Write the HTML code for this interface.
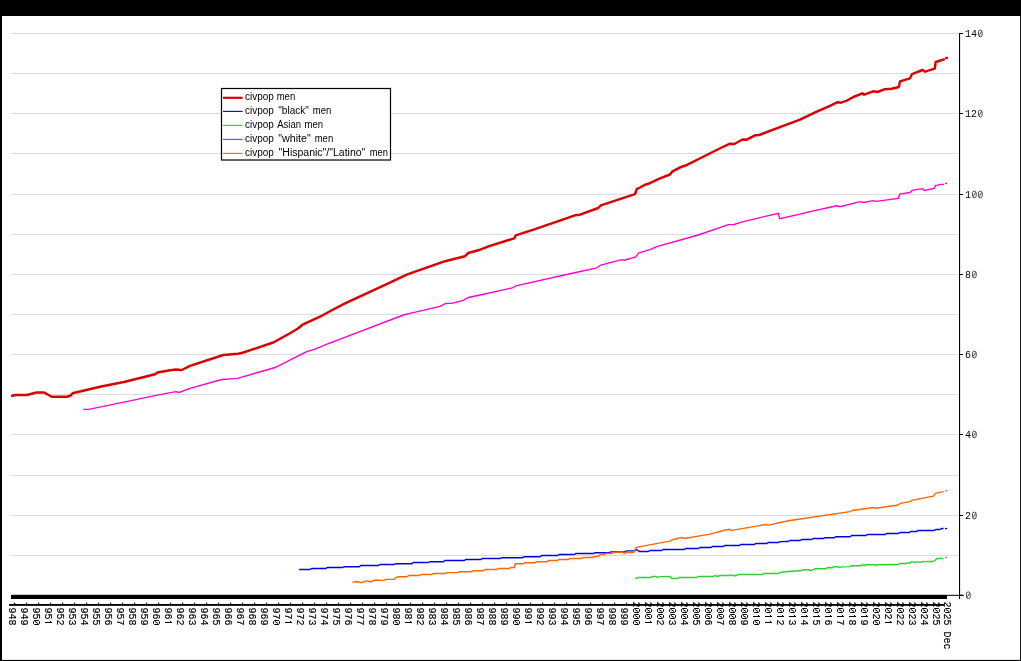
<!DOCTYPE html>
<html><head><meta charset="utf-8"><title>civpop men</title>
<style>
html,body{margin:0;padding:0;background:#000;overflow:hidden}
svg{display:block;will-change:transform}
.m{font-family:"Liberation Mono",monospace;font-size:10px;fill:#000}
.s{font-family:"Liberation Sans",sans-serif;font-size:10px;fill:#000}
.r text{stroke:#000;stroke-width:.15px}
</style></head><body>
<svg width="1021" height="661" viewBox="0 0 1021 661">
<rect x="0" y="0" width="1021" height="661" fill="#000"/>
<g>
<rect x="2" y="16" width="1018.1" height="643.9" fill="#fff"/>

<g stroke="#dcdcdc" stroke-width="1">
<line x1="11" y1="33.5" x2="958" y2="33.5"/>
<line x1="11" y1="73.5" x2="958" y2="73.5"/>
<line x1="11" y1="113.5" x2="958" y2="113.5"/>
<line x1="11" y1="153.5" x2="958" y2="153.5"/>
<line x1="11" y1="194.5" x2="958" y2="194.5"/>
<line x1="11" y1="234.5" x2="958" y2="234.5"/>
<line x1="11" y1="274.5" x2="958" y2="274.5"/>
<line x1="11" y1="314.5" x2="958" y2="314.5"/>
<line x1="11" y1="354.5" x2="958" y2="354.5"/>
<line x1="11" y1="394.5" x2="958" y2="394.5"/>
<line x1="11" y1="434.5" x2="958" y2="434.5"/>
<line x1="11" y1="475.5" x2="958" y2="475.5"/>
<line x1="11" y1="515.5" x2="958" y2="515.5"/>
<line x1="11" y1="555.5" x2="958" y2="555.5"/>
</g>
<line x1="11" y1="595.3" x2="964" y2="595.3" stroke="#000" stroke-width="1"/>
<rect x="11" y="595" width="936" height="4" fill="#000"/>
<line x1="959.55" y1="33" x2="959.55" y2="599" stroke="#000" stroke-width="1.1"/>
<line x1="959" y1="33.5" x2="963" y2="33.5" stroke="#000" stroke-width="1"/>
<g class="m" transform="translate(965,37.0)"><text><tspan x="0">1</tspan><tspan x="6">4</tspan></text><path d="M15.3 -0.2H15.3Q17.2 -0.2 17.2 -2.1V-5.1Q17.2 -6.9 15.3 -6.9H15.3Q13.5 -6.9 13.5 -5.1V-2.1Q13.5 -0.2 15.3 -0.2ZM14.2 -1.5L16.5 -5.6" fill="none" stroke="#222" stroke-width="0.8"/></g>
<line x1="959" y1="113.5" x2="963" y2="113.5" stroke="#000" stroke-width="1"/>
<g class="m" transform="translate(965,117.0)"><text><tspan x="0">1</tspan><tspan x="6">2</tspan></text><path d="M15.3 -0.2H15.3Q17.2 -0.2 17.2 -2.1V-5.1Q17.2 -6.9 15.3 -6.9H15.3Q13.5 -6.9 13.5 -5.1V-2.1Q13.5 -0.2 15.3 -0.2ZM14.2 -1.5L16.5 -5.6" fill="none" stroke="#222" stroke-width="0.8"/></g>
<line x1="959" y1="194.5" x2="963" y2="194.5" stroke="#000" stroke-width="1"/>
<g class="m" transform="translate(965,198.0)"><text><tspan x="0">1</tspan></text><path d="M9.3 -0.2H9.3Q11.2 -0.2 11.2 -2.1V-5.1Q11.2 -6.9 9.3 -6.9H9.3Q7.5 -6.9 7.5 -5.1V-2.1Q7.5 -0.2 9.3 -0.2ZM8.2 -1.5L10.5 -5.6M15.3 -0.2H15.3Q17.2 -0.2 17.2 -2.1V-5.1Q17.2 -6.9 15.3 -6.9H15.3Q13.5 -6.9 13.5 -5.1V-2.1Q13.5 -0.2 15.3 -0.2ZM14.2 -1.5L16.5 -5.6" fill="none" stroke="#222" stroke-width="0.8"/></g>
<line x1="959" y1="274.5" x2="963" y2="274.5" stroke="#000" stroke-width="1"/>
<g class="m" transform="translate(965,278.0)"><text><tspan x="0">8</tspan></text><path d="M9.3 -0.2H9.3Q11.2 -0.2 11.2 -2.1V-5.1Q11.2 -6.9 9.3 -6.9H9.3Q7.5 -6.9 7.5 -5.1V-2.1Q7.5 -0.2 9.3 -0.2ZM8.2 -1.5L10.5 -5.6" fill="none" stroke="#222" stroke-width="0.8"/></g>
<line x1="959" y1="354.5" x2="963" y2="354.5" stroke="#000" stroke-width="1"/>
<g class="m" transform="translate(965,358.0)"><text><tspan x="0">6</tspan></text><path d="M9.3 -0.2H9.3Q11.2 -0.2 11.2 -2.1V-5.1Q11.2 -6.9 9.3 -6.9H9.3Q7.5 -6.9 7.5 -5.1V-2.1Q7.5 -0.2 9.3 -0.2ZM8.2 -1.5L10.5 -5.6" fill="none" stroke="#222" stroke-width="0.8"/></g>
<line x1="959" y1="434.5" x2="963" y2="434.5" stroke="#000" stroke-width="1"/>
<g class="m" transform="translate(965,438.0)"><text><tspan x="0">4</tspan></text><path d="M9.3 -0.2H9.3Q11.2 -0.2 11.2 -2.1V-5.1Q11.2 -6.9 9.3 -6.9H9.3Q7.5 -6.9 7.5 -5.1V-2.1Q7.5 -0.2 9.3 -0.2ZM8.2 -1.5L10.5 -5.6" fill="none" stroke="#222" stroke-width="0.8"/></g>
<line x1="959" y1="515.5" x2="963" y2="515.5" stroke="#000" stroke-width="1"/>
<g class="m" transform="translate(965,519.0)"><text><tspan x="0">2</tspan></text><path d="M9.3 -0.2H9.3Q11.2 -0.2 11.2 -2.1V-5.1Q11.2 -6.9 9.3 -6.9H9.3Q7.5 -6.9 7.5 -5.1V-2.1Q7.5 -0.2 9.3 -0.2ZM8.2 -1.5L10.5 -5.6" fill="none" stroke="#222" stroke-width="0.8"/></g>
<line x1="959" y1="595.3" x2="963" y2="595.3" stroke="#000" stroke-width="1"/>
<g class="m" transform="translate(965,598.8)"><path d="M3.4 -0.2H3.4Q5.2 -0.2 5.2 -2.1V-5.1Q5.2 -6.9 3.4 -6.9H3.4Q1.5 -6.9 1.5 -5.1V-2.1Q1.5 -0.2 3.4 -0.2ZM2.2 -1.5L4.5 -5.6" fill="none" stroke="#222" stroke-width="0.8"/></g>
<rect x="9" y="604" width="935" height="1.85" fill="#000"/>
<g fill="#000">
<rect x="13.9" y="602.7" width="1.3" height="1.6"/>
<rect x="25.9" y="602.7" width="1.3" height="1.6"/>
<rect x="37.9" y="602.7" width="1.3" height="1.6"/>
<rect x="49.9" y="602.7" width="1.3" height="1.6"/>
<rect x="61.9" y="602.7" width="1.3" height="1.6"/>
<rect x="73.9" y="602.7" width="1.3" height="1.6"/>
<rect x="85.9" y="602.7" width="1.3" height="1.6"/>
<rect x="97.9" y="602.7" width="1.3" height="1.6"/>
<rect x="109.9" y="602.7" width="1.3" height="1.6"/>
<rect x="121.9" y="602.7" width="1.3" height="1.6"/>
<rect x="133.9" y="602.7" width="1.3" height="1.6"/>
<rect x="145.9" y="602.7" width="1.3" height="1.6"/>
<rect x="157.9" y="602.7" width="1.3" height="1.6"/>
<rect x="169.9" y="602.7" width="1.3" height="1.6"/>
<rect x="181.9" y="602.7" width="1.3" height="1.6"/>
<rect x="193.9" y="602.7" width="1.3" height="1.6"/>
<rect x="205.9" y="602.7" width="1.3" height="1.6"/>
<rect x="217.9" y="602.7" width="1.3" height="1.6"/>
<rect x="229.9" y="602.7" width="1.3" height="1.6"/>
<rect x="241.9" y="602.7" width="1.3" height="1.6"/>
<rect x="253.9" y="602.7" width="1.3" height="1.6"/>
<rect x="265.9" y="602.7" width="1.3" height="1.6"/>
<rect x="277.9" y="602.7" width="1.3" height="1.6"/>
<rect x="289.9" y="602.7" width="1.3" height="1.6"/>
<rect x="301.9" y="602.7" width="1.3" height="1.6"/>
<rect x="313.9" y="602.7" width="1.3" height="1.6"/>
<rect x="325.9" y="602.7" width="1.3" height="1.6"/>
<rect x="337.9" y="602.7" width="1.3" height="1.6"/>
<rect x="349.9" y="602.7" width="1.3" height="1.6"/>
<rect x="361.9" y="602.7" width="1.3" height="1.6"/>
<rect x="373.9" y="602.7" width="1.3" height="1.6"/>
<rect x="385.9" y="602.7" width="1.3" height="1.6"/>
<rect x="397.9" y="602.7" width="1.3" height="1.6"/>
<rect x="409.9" y="602.7" width="1.3" height="1.6"/>
<rect x="421.9" y="602.7" width="1.3" height="1.6"/>
<rect x="433.9" y="602.7" width="1.3" height="1.6"/>
<rect x="445.9" y="602.7" width="1.3" height="1.6"/>
<rect x="457.9" y="602.7" width="1.3" height="1.6"/>
<rect x="469.9" y="602.7" width="1.3" height="1.6"/>
<rect x="481.9" y="602.7" width="1.3" height="1.6"/>
<rect x="493.9" y="602.7" width="1.3" height="1.6"/>
<rect x="505.9" y="602.7" width="1.3" height="1.6"/>
<rect x="517.9" y="602.7" width="1.3" height="1.6"/>
<rect x="529.9" y="602.7" width="1.3" height="1.6"/>
<rect x="541.9" y="602.7" width="1.3" height="1.6"/>
<rect x="553.9" y="602.7" width="1.3" height="1.6"/>
<rect x="565.9" y="602.7" width="1.3" height="1.6"/>
<rect x="577.9" y="602.7" width="1.3" height="1.6"/>
<rect x="589.9" y="602.7" width="1.3" height="1.6"/>
<rect x="601.9" y="602.7" width="1.3" height="1.6"/>
<rect x="613.9" y="602.7" width="1.3" height="1.6"/>
<rect x="625.9" y="602.7" width="1.3" height="1.6"/>
</g>
<g class="m r">
<g transform="translate(9.0,607.5) rotate(90)"><text><tspan x="0">9</tspan><tspan x="6">4</tspan><tspan x="12">8</tspan></text></g>
<g transform="translate(21.0,607.5) rotate(90)"><text><tspan x="0">9</tspan><tspan x="6">4</tspan><tspan x="12">9</tspan></text></g>
<g transform="translate(33.0,607.5) rotate(90)"><text><tspan x="0">9</tspan><tspan x="6">5</tspan></text><path d="M14.0 -0.5H16.0L17.0 -1.5V-5.5L16.0 -6.5H14.0L13.0 -5.5V-1.5ZM13.8 -1.7L16.2 -5.3" fill="none" stroke="#000" stroke-width="1"/></g>
<g transform="translate(45.0,607.5) rotate(90)"><text><tspan x="0">9</tspan><tspan x="6">5</tspan></text><path d="M15.0 0V-7M14.8 -6.4l-1.5 1.5" fill="none" stroke="#000" stroke-width="1"/></g>
<g transform="translate(57.0,607.5) rotate(90)"><text><tspan x="0">9</tspan><tspan x="6">5</tspan><tspan x="12">2</tspan></text></g>
<g transform="translate(69.0,607.5) rotate(90)"><text><tspan x="0">9</tspan><tspan x="6">5</tspan><tspan x="12">3</tspan></text></g>
<g transform="translate(81.0,607.5) rotate(90)"><text><tspan x="0">9</tspan><tspan x="6">5</tspan><tspan x="12">4</tspan></text></g>
<g transform="translate(93.0,607.5) rotate(90)"><text><tspan x="0">9</tspan><tspan x="6">5</tspan><tspan x="12">5</tspan></text></g>
<g transform="translate(105.0,607.5) rotate(90)"><text><tspan x="0">9</tspan><tspan x="6">5</tspan><tspan x="12">6</tspan></text></g>
<g transform="translate(117.0,607.5) rotate(90)"><text><tspan x="0">9</tspan><tspan x="6">5</tspan><tspan x="12">7</tspan></text></g>
<g transform="translate(129.0,607.5) rotate(90)"><text><tspan x="0">9</tspan><tspan x="6">5</tspan><tspan x="12">8</tspan></text></g>
<g transform="translate(141.0,607.5) rotate(90)"><text><tspan x="0">9</tspan><tspan x="6">5</tspan><tspan x="12">9</tspan></text></g>
<g transform="translate(153.0,607.5) rotate(90)"><text><tspan x="0">9</tspan><tspan x="6">6</tspan></text><path d="M14.0 -0.5H16.0L17.0 -1.5V-5.5L16.0 -6.5H14.0L13.0 -5.5V-1.5ZM13.8 -1.7L16.2 -5.3" fill="none" stroke="#000" stroke-width="1"/></g>
<g transform="translate(165.0,607.5) rotate(90)"><text><tspan x="0">9</tspan><tspan x="6">6</tspan></text><path d="M15.0 0V-7M14.8 -6.4l-1.5 1.5" fill="none" stroke="#000" stroke-width="1"/></g>
<g transform="translate(177.0,607.5) rotate(90)"><text><tspan x="0">9</tspan><tspan x="6">6</tspan><tspan x="12">2</tspan></text></g>
<g transform="translate(189.0,607.5) rotate(90)"><text><tspan x="0">9</tspan><tspan x="6">6</tspan><tspan x="12">3</tspan></text></g>
<g transform="translate(201.0,607.5) rotate(90)"><text><tspan x="0">9</tspan><tspan x="6">6</tspan><tspan x="12">4</tspan></text></g>
<g transform="translate(213.0,607.5) rotate(90)"><text><tspan x="0">9</tspan><tspan x="6">6</tspan><tspan x="12">5</tspan></text></g>
<g transform="translate(225.0,607.5) rotate(90)"><text><tspan x="0">9</tspan><tspan x="6">6</tspan><tspan x="12">6</tspan></text></g>
<g transform="translate(237.0,607.5) rotate(90)"><text><tspan x="0">9</tspan><tspan x="6">6</tspan><tspan x="12">7</tspan></text></g>
<g transform="translate(249.0,607.5) rotate(90)"><text><tspan x="0">9</tspan><tspan x="6">6</tspan><tspan x="12">8</tspan></text></g>
<g transform="translate(261.0,607.5) rotate(90)"><text><tspan x="0">9</tspan><tspan x="6">6</tspan><tspan x="12">9</tspan></text></g>
<g transform="translate(273.0,607.5) rotate(90)"><text><tspan x="0">9</tspan><tspan x="6">7</tspan></text><path d="M14.0 -0.5H16.0L17.0 -1.5V-5.5L16.0 -6.5H14.0L13.0 -5.5V-1.5ZM13.8 -1.7L16.2 -5.3" fill="none" stroke="#000" stroke-width="1"/></g>
<g transform="translate(285.0,607.5) rotate(90)"><text><tspan x="0">9</tspan><tspan x="6">7</tspan></text><path d="M15.0 0V-7M14.8 -6.4l-1.5 1.5" fill="none" stroke="#000" stroke-width="1"/></g>
<g transform="translate(297.0,607.5) rotate(90)"><text><tspan x="0">9</tspan><tspan x="6">7</tspan><tspan x="12">2</tspan></text></g>
<g transform="translate(309.0,607.5) rotate(90)"><text><tspan x="0">9</tspan><tspan x="6">7</tspan><tspan x="12">3</tspan></text></g>
<g transform="translate(321.0,607.5) rotate(90)"><text><tspan x="0">9</tspan><tspan x="6">7</tspan><tspan x="12">4</tspan></text></g>
<g transform="translate(333.0,607.5) rotate(90)"><text><tspan x="0">9</tspan><tspan x="6">7</tspan><tspan x="12">5</tspan></text></g>
<g transform="translate(345.0,607.5) rotate(90)"><text><tspan x="0">9</tspan><tspan x="6">7</tspan><tspan x="12">6</tspan></text></g>
<g transform="translate(357.0,607.5) rotate(90)"><text><tspan x="0">9</tspan><tspan x="6">7</tspan><tspan x="12">7</tspan></text></g>
<g transform="translate(369.0,607.5) rotate(90)"><text><tspan x="0">9</tspan><tspan x="6">7</tspan><tspan x="12">8</tspan></text></g>
<g transform="translate(381.0,607.5) rotate(90)"><text><tspan x="0">9</tspan><tspan x="6">7</tspan><tspan x="12">9</tspan></text></g>
<g transform="translate(393.0,607.5) rotate(90)"><text><tspan x="0">9</tspan><tspan x="6">8</tspan></text><path d="M14.0 -0.5H16.0L17.0 -1.5V-5.5L16.0 -6.5H14.0L13.0 -5.5V-1.5ZM13.8 -1.7L16.2 -5.3" fill="none" stroke="#000" stroke-width="1"/></g>
<g transform="translate(405.0,607.5) rotate(90)"><text><tspan x="0">9</tspan><tspan x="6">8</tspan></text><path d="M15.0 0V-7M14.8 -6.4l-1.5 1.5" fill="none" stroke="#000" stroke-width="1"/></g>
<g transform="translate(417.0,607.5) rotate(90)"><text><tspan x="0">9</tspan><tspan x="6">8</tspan><tspan x="12">2</tspan></text></g>
<g transform="translate(429.0,607.5) rotate(90)"><text><tspan x="0">9</tspan><tspan x="6">8</tspan><tspan x="12">3</tspan></text></g>
<g transform="translate(441.0,607.5) rotate(90)"><text><tspan x="0">9</tspan><tspan x="6">8</tspan><tspan x="12">4</tspan></text></g>
<g transform="translate(453.0,607.5) rotate(90)"><text><tspan x="0">9</tspan><tspan x="6">8</tspan><tspan x="12">5</tspan></text></g>
<g transform="translate(465.0,607.5) rotate(90)"><text><tspan x="0">9</tspan><tspan x="6">8</tspan><tspan x="12">6</tspan></text></g>
<g transform="translate(477.0,607.5) rotate(90)"><text><tspan x="0">9</tspan><tspan x="6">8</tspan><tspan x="12">7</tspan></text></g>
<g transform="translate(489.0,607.5) rotate(90)"><text><tspan x="0">9</tspan><tspan x="6">8</tspan><tspan x="12">8</tspan></text></g>
<g transform="translate(501.0,607.5) rotate(90)"><text><tspan x="0">9</tspan><tspan x="6">8</tspan><tspan x="12">9</tspan></text></g>
<g transform="translate(513.0,607.5) rotate(90)"><text><tspan x="0">9</tspan><tspan x="6">9</tspan></text><path d="M14.0 -0.5H16.0L17.0 -1.5V-5.5L16.0 -6.5H14.0L13.0 -5.5V-1.5ZM13.8 -1.7L16.2 -5.3" fill="none" stroke="#000" stroke-width="1"/></g>
<g transform="translate(525.0,607.5) rotate(90)"><text><tspan x="0">9</tspan><tspan x="6">9</tspan></text><path d="M15.0 0V-7M14.8 -6.4l-1.5 1.5" fill="none" stroke="#000" stroke-width="1"/></g>
<g transform="translate(537.0,607.5) rotate(90)"><text><tspan x="0">9</tspan><tspan x="6">9</tspan><tspan x="12">2</tspan></text></g>
<g transform="translate(549.0,607.5) rotate(90)"><text><tspan x="0">9</tspan><tspan x="6">9</tspan><tspan x="12">3</tspan></text></g>
<g transform="translate(561.0,607.5) rotate(90)"><text><tspan x="0">9</tspan><tspan x="6">9</tspan><tspan x="12">4</tspan></text></g>
<g transform="translate(573.0,607.5) rotate(90)"><text><tspan x="0">9</tspan><tspan x="6">9</tspan><tspan x="12">5</tspan></text></g>
<g transform="translate(585.0,607.5) rotate(90)"><text><tspan x="0">9</tspan><tspan x="6">9</tspan><tspan x="12">6</tspan></text></g>
<g transform="translate(597.0,607.5) rotate(90)"><text><tspan x="0">9</tspan><tspan x="6">9</tspan><tspan x="12">7</tspan></text></g>
<g transform="translate(609.0,607.5) rotate(90)"><text><tspan x="0">9</tspan><tspan x="6">9</tspan><tspan x="12">8</tspan></text></g>
<g transform="translate(621.0,607.5) rotate(90)"><text><tspan x="0">9</tspan><tspan x="6">9</tspan><tspan x="12">9</tspan></text></g>
<g transform="translate(633.0,601.5) rotate(90)"><text><tspan x="0">2</tspan></text><path d="M8.0 -0.5H10.0L11.0 -1.5V-5.5L10.0 -6.5H8.0L7.0 -5.5V-1.5ZM7.8 -1.7L10.2 -5.3M14.0 -0.5H16.0L17.0 -1.5V-5.5L16.0 -6.5H14.0L13.0 -5.5V-1.5ZM13.8 -1.7L16.2 -5.3M20.0 -0.5H22.0L23.0 -1.5V-5.5L22.0 -6.5H20.0L19.0 -5.5V-1.5ZM19.8 -1.7L22.2 -5.3" fill="none" stroke="#000" stroke-width="1"/></g>
<g transform="translate(645.0,601.5) rotate(90)"><text><tspan x="0">2</tspan></text><path d="M8.0 -0.5H10.0L11.0 -1.5V-5.5L10.0 -6.5H8.0L7.0 -5.5V-1.5ZM7.8 -1.7L10.2 -5.3M14.0 -0.5H16.0L17.0 -1.5V-5.5L16.0 -6.5H14.0L13.0 -5.5V-1.5ZM13.8 -1.7L16.2 -5.3M21.0 0V-7M20.8 -6.4l-1.5 1.5" fill="none" stroke="#000" stroke-width="1"/></g>
<g transform="translate(657.0,601.5) rotate(90)"><text><tspan x="0">2</tspan><tspan x="18">2</tspan></text><path d="M8.0 -0.5H10.0L11.0 -1.5V-5.5L10.0 -6.5H8.0L7.0 -5.5V-1.5ZM7.8 -1.7L10.2 -5.3M14.0 -0.5H16.0L17.0 -1.5V-5.5L16.0 -6.5H14.0L13.0 -5.5V-1.5ZM13.8 -1.7L16.2 -5.3" fill="none" stroke="#000" stroke-width="1"/></g>
<g transform="translate(669.0,601.5) rotate(90)"><text><tspan x="0">2</tspan><tspan x="18">3</tspan></text><path d="M8.0 -0.5H10.0L11.0 -1.5V-5.5L10.0 -6.5H8.0L7.0 -5.5V-1.5ZM7.8 -1.7L10.2 -5.3M14.0 -0.5H16.0L17.0 -1.5V-5.5L16.0 -6.5H14.0L13.0 -5.5V-1.5ZM13.8 -1.7L16.2 -5.3" fill="none" stroke="#000" stroke-width="1"/></g>
<g transform="translate(681.0,601.5) rotate(90)"><text><tspan x="0">2</tspan><tspan x="18">4</tspan></text><path d="M8.0 -0.5H10.0L11.0 -1.5V-5.5L10.0 -6.5H8.0L7.0 -5.5V-1.5ZM7.8 -1.7L10.2 -5.3M14.0 -0.5H16.0L17.0 -1.5V-5.5L16.0 -6.5H14.0L13.0 -5.5V-1.5ZM13.8 -1.7L16.2 -5.3" fill="none" stroke="#000" stroke-width="1"/></g>
<g transform="translate(693.0,601.5) rotate(90)"><text><tspan x="0">2</tspan><tspan x="18">5</tspan></text><path d="M8.0 -0.5H10.0L11.0 -1.5V-5.5L10.0 -6.5H8.0L7.0 -5.5V-1.5ZM7.8 -1.7L10.2 -5.3M14.0 -0.5H16.0L17.0 -1.5V-5.5L16.0 -6.5H14.0L13.0 -5.5V-1.5ZM13.8 -1.7L16.2 -5.3" fill="none" stroke="#000" stroke-width="1"/></g>
<g transform="translate(705.0,601.5) rotate(90)"><text><tspan x="0">2</tspan><tspan x="18">6</tspan></text><path d="M8.0 -0.5H10.0L11.0 -1.5V-5.5L10.0 -6.5H8.0L7.0 -5.5V-1.5ZM7.8 -1.7L10.2 -5.3M14.0 -0.5H16.0L17.0 -1.5V-5.5L16.0 -6.5H14.0L13.0 -5.5V-1.5ZM13.8 -1.7L16.2 -5.3" fill="none" stroke="#000" stroke-width="1"/></g>
<g transform="translate(717.0,601.5) rotate(90)"><text><tspan x="0">2</tspan><tspan x="18">7</tspan></text><path d="M8.0 -0.5H10.0L11.0 -1.5V-5.5L10.0 -6.5H8.0L7.0 -5.5V-1.5ZM7.8 -1.7L10.2 -5.3M14.0 -0.5H16.0L17.0 -1.5V-5.5L16.0 -6.5H14.0L13.0 -5.5V-1.5ZM13.8 -1.7L16.2 -5.3" fill="none" stroke="#000" stroke-width="1"/></g>
<g transform="translate(729.0,601.5) rotate(90)"><text><tspan x="0">2</tspan><tspan x="18">8</tspan></text><path d="M8.0 -0.5H10.0L11.0 -1.5V-5.5L10.0 -6.5H8.0L7.0 -5.5V-1.5ZM7.8 -1.7L10.2 -5.3M14.0 -0.5H16.0L17.0 -1.5V-5.5L16.0 -6.5H14.0L13.0 -5.5V-1.5ZM13.8 -1.7L16.2 -5.3" fill="none" stroke="#000" stroke-width="1"/></g>
<g transform="translate(741.0,601.5) rotate(90)"><text><tspan x="0">2</tspan><tspan x="18">9</tspan></text><path d="M8.0 -0.5H10.0L11.0 -1.5V-5.5L10.0 -6.5H8.0L7.0 -5.5V-1.5ZM7.8 -1.7L10.2 -5.3M14.0 -0.5H16.0L17.0 -1.5V-5.5L16.0 -6.5H14.0L13.0 -5.5V-1.5ZM13.8 -1.7L16.2 -5.3" fill="none" stroke="#000" stroke-width="1"/></g>
<g transform="translate(753.0,601.5) rotate(90)"><text><tspan x="0">2</tspan></text><path d="M8.0 -0.5H10.0L11.0 -1.5V-5.5L10.0 -6.5H8.0L7.0 -5.5V-1.5ZM7.8 -1.7L10.2 -5.3M15.0 0V-7M14.8 -6.4l-1.5 1.5M20.0 -0.5H22.0L23.0 -1.5V-5.5L22.0 -6.5H20.0L19.0 -5.5V-1.5ZM19.8 -1.7L22.2 -5.3" fill="none" stroke="#000" stroke-width="1"/></g>
<g transform="translate(765.0,601.5) rotate(90)"><text><tspan x="0">2</tspan></text><path d="M8.0 -0.5H10.0L11.0 -1.5V-5.5L10.0 -6.5H8.0L7.0 -5.5V-1.5ZM7.8 -1.7L10.2 -5.3M15.0 0V-7M14.8 -6.4l-1.5 1.5M21.0 0V-7M20.8 -6.4l-1.5 1.5" fill="none" stroke="#000" stroke-width="1"/></g>
<g transform="translate(777.0,601.5) rotate(90)"><text><tspan x="0">2</tspan><tspan x="18">2</tspan></text><path d="M8.0 -0.5H10.0L11.0 -1.5V-5.5L10.0 -6.5H8.0L7.0 -5.5V-1.5ZM7.8 -1.7L10.2 -5.3M15.0 0V-7M14.8 -6.4l-1.5 1.5" fill="none" stroke="#000" stroke-width="1"/></g>
<g transform="translate(789.0,601.5) rotate(90)"><text><tspan x="0">2</tspan><tspan x="18">3</tspan></text><path d="M8.0 -0.5H10.0L11.0 -1.5V-5.5L10.0 -6.5H8.0L7.0 -5.5V-1.5ZM7.8 -1.7L10.2 -5.3M15.0 0V-7M14.8 -6.4l-1.5 1.5" fill="none" stroke="#000" stroke-width="1"/></g>
<g transform="translate(801.0,601.5) rotate(90)"><text><tspan x="0">2</tspan><tspan x="18">4</tspan></text><path d="M8.0 -0.5H10.0L11.0 -1.5V-5.5L10.0 -6.5H8.0L7.0 -5.5V-1.5ZM7.8 -1.7L10.2 -5.3M15.0 0V-7M14.8 -6.4l-1.5 1.5" fill="none" stroke="#000" stroke-width="1"/></g>
<g transform="translate(813.0,601.5) rotate(90)"><text><tspan x="0">2</tspan><tspan x="18">5</tspan></text><path d="M8.0 -0.5H10.0L11.0 -1.5V-5.5L10.0 -6.5H8.0L7.0 -5.5V-1.5ZM7.8 -1.7L10.2 -5.3M15.0 0V-7M14.8 -6.4l-1.5 1.5" fill="none" stroke="#000" stroke-width="1"/></g>
<g transform="translate(825.0,601.5) rotate(90)"><text><tspan x="0">2</tspan><tspan x="18">6</tspan></text><path d="M8.0 -0.5H10.0L11.0 -1.5V-5.5L10.0 -6.5H8.0L7.0 -5.5V-1.5ZM7.8 -1.7L10.2 -5.3M15.0 0V-7M14.8 -6.4l-1.5 1.5" fill="none" stroke="#000" stroke-width="1"/></g>
<g transform="translate(837.0,601.5) rotate(90)"><text><tspan x="0">2</tspan><tspan x="18">7</tspan></text><path d="M8.0 -0.5H10.0L11.0 -1.5V-5.5L10.0 -6.5H8.0L7.0 -5.5V-1.5ZM7.8 -1.7L10.2 -5.3M15.0 0V-7M14.8 -6.4l-1.5 1.5" fill="none" stroke="#000" stroke-width="1"/></g>
<g transform="translate(849.0,601.5) rotate(90)"><text><tspan x="0">2</tspan><tspan x="18">8</tspan></text><path d="M8.0 -0.5H10.0L11.0 -1.5V-5.5L10.0 -6.5H8.0L7.0 -5.5V-1.5ZM7.8 -1.7L10.2 -5.3M15.0 0V-7M14.8 -6.4l-1.5 1.5" fill="none" stroke="#000" stroke-width="1"/></g>
<g transform="translate(861.0,601.5) rotate(90)"><text><tspan x="0">2</tspan><tspan x="18">9</tspan></text><path d="M8.0 -0.5H10.0L11.0 -1.5V-5.5L10.0 -6.5H8.0L7.0 -5.5V-1.5ZM7.8 -1.7L10.2 -5.3M15.0 0V-7M14.8 -6.4l-1.5 1.5" fill="none" stroke="#000" stroke-width="1"/></g>
<g transform="translate(873.0,601.5) rotate(90)"><text><tspan x="0">2</tspan><tspan x="12">2</tspan></text><path d="M8.0 -0.5H10.0L11.0 -1.5V-5.5L10.0 -6.5H8.0L7.0 -5.5V-1.5ZM7.8 -1.7L10.2 -5.3M20.0 -0.5H22.0L23.0 -1.5V-5.5L22.0 -6.5H20.0L19.0 -5.5V-1.5ZM19.8 -1.7L22.2 -5.3" fill="none" stroke="#000" stroke-width="1"/></g>
<g transform="translate(885.0,601.5) rotate(90)"><text><tspan x="0">2</tspan><tspan x="12">2</tspan></text><path d="M8.0 -0.5H10.0L11.0 -1.5V-5.5L10.0 -6.5H8.0L7.0 -5.5V-1.5ZM7.8 -1.7L10.2 -5.3M21.0 0V-7M20.8 -6.4l-1.5 1.5" fill="none" stroke="#000" stroke-width="1"/></g>
<g transform="translate(897.0,601.5) rotate(90)"><text><tspan x="0">2</tspan><tspan x="12">2</tspan><tspan x="18">2</tspan></text><path d="M8.0 -0.5H10.0L11.0 -1.5V-5.5L10.0 -6.5H8.0L7.0 -5.5V-1.5ZM7.8 -1.7L10.2 -5.3" fill="none" stroke="#000" stroke-width="1"/></g>
<g transform="translate(909.0,601.5) rotate(90)"><text><tspan x="0">2</tspan><tspan x="12">2</tspan><tspan x="18">3</tspan></text><path d="M8.0 -0.5H10.0L11.0 -1.5V-5.5L10.0 -6.5H8.0L7.0 -5.5V-1.5ZM7.8 -1.7L10.2 -5.3" fill="none" stroke="#000" stroke-width="1"/></g>
<g transform="translate(921.0,601.5) rotate(90)"><text><tspan x="0">2</tspan><tspan x="12">2</tspan><tspan x="18">4</tspan></text><path d="M8.0 -0.5H10.0L11.0 -1.5V-5.5L10.0 -6.5H8.0L7.0 -5.5V-1.5ZM7.8 -1.7L10.2 -5.3" fill="none" stroke="#000" stroke-width="1"/></g>
<g transform="translate(933.0,601.5) rotate(90)"><text><tspan x="0">2</tspan><tspan x="12">2</tspan><tspan x="18">5</tspan></text><path d="M8.0 -0.5H10.0L11.0 -1.5V-5.5L10.0 -6.5H8.0L7.0 -5.5V-1.5ZM7.8 -1.7L10.2 -5.3" fill="none" stroke="#000" stroke-width="1"/></g>
<g transform="translate(944.0,601.5) rotate(90)"><text><tspan x="0">2</tspan><tspan x="12">2</tspan><tspan x="18">5</tspan><tspan x="30">D</tspan><tspan x="36">e</tspan><tspan x="42">c</tspan></text><path d="M8.0 -0.5H10.0L11.0 -1.5V-5.5L10.0 -6.5H8.0L7.0 -5.5V-1.5ZM7.8 -1.7L10.2 -5.3" fill="none" stroke="#000" stroke-width="1"/></g>
</g>
<polyline fill="none" stroke="#3c3" stroke-width="1.35" points="635.0,578.7 638.3,577.5 650.8,577.5 652.5,576.5 655.8,576.5 657.5,577.5 660.0,576.7 670.0,576.5 671.7,578.5 677.5,578.5 679.2,577.5 696.7,577.5 698.3,576.5 713.3,576.5 715.0,575.5 717.5,576.5 720.0,575.5 729.2,575.5 730.8,574.7 733.3,575.7 736.7,575.5 738.3,574.5 762.5,574.5 764.2,573.5 778.3,573.5 780.0,572.5 788.0,571.5 801.7,570.5 803.3,569.7 809.2,569.7 810.3,570.7 814.2,569.5 815.0,568.7 825.8,568.7 827.5,567.7 832.5,567.7 834.2,566.7 838.3,566.7 840.0,567.5 841.7,566.8 850.0,566.7 851.7,565.7 860.8,565.7 862.5,564.7 864.2,565.7 865.8,564.7 874.2,564.7 875.5,565.7 876.7,564.7 898.3,564.5 900.0,563.5 906.7,563.5 908.0,562.5 910.0,563.3 911.7,561.7 915.8,562.5 917.5,561.7 920.0,562.5 921.7,561.7 932.5,561.5 934.2,560.8 937.5,558.5 943.6,558.5"/>
<polyline fill="none" stroke="#00d" stroke-width="1.35" points="299.2,569.5 310.0,569.5 311.7,568.5 325.8,568.5 327.5,567.5 342.5,567.5 344.2,566.7 359.2,566.7 360.8,565.5 378.3,565.5 380.0,564.5 394.2,564.5 395.8,563.7 411.7,563.7 413.3,562.5 428.3,562.5 430.0,561.7 443.3,561.7 445.0,560.5 464.2,560.5 465.8,559.5 480.8,559.5 482.5,558.5 500.0,558.5 501.7,557.7 522.5,557.7 524.2,556.7 540.0,556.7 541.7,555.5 557.5,555.5 559.2,554.5 574.2,554.5 575.8,553.5 593.3,553.5 595.0,552.7 609.2,552.7 610.8,551.9 625.0,551.9 626.7,550.8 635.0,550.8 636.7,549.5 639.2,551.5 648.3,551.5 650.0,550.5 661.7,550.5 663.3,549.5 684.2,549.5 685.8,548.5 698.3,548.5 700.0,547.5 710.8,547.5 712.5,546.5 723.3,546.5 725.0,545.5 739.2,545.5 740.8,544.5 754.2,544.5 755.8,543.5 766.7,543.5 768.3,542.5 778.3,542.5 780.0,541.7 788.0,541.5 790.0,540.5 800.0,540.5 801.7,539.5 811.7,539.5 813.3,538.5 823.3,538.5 825.0,537.7 834.2,537.7 835.8,536.7 850.0,536.7 851.7,535.5 865.8,535.5 867.5,534.5 885.0,534.5 886.7,533.5 898.3,533.5 900.0,532.5 909.2,532.5 910.8,531.5 916.7,531.5 918.3,530.5 934.2,530.5 935.8,529.5 940.0,529.5 941.7,528.5 943.6,528.5"/>
<polyline fill="none" stroke="#f60" stroke-width="1.35" points="352.5,582.5 355.0,581.7 358.3,581.7 360.0,582.5 362.5,582.5 365.8,580.8 367.5,580.8 369.2,581.7 371.7,581.7 373.3,580.5 377.5,580.0 380.0,580.3 384.2,580.3 385.8,579.3 394.2,579.3 395.8,577.5 398.3,576.7 406.7,576.7 409.2,575.5 419.2,575.5 420.8,574.5 431.7,574.5 433.3,573.5 445.0,573.5 446.7,572.6 457.5,572.6 459.2,571.7 471.7,571.7 473.3,570.7 483.3,570.7 485.0,569.5 496.7,569.5 498.3,568.5 509.2,568.5 510.8,567.5 514.2,567.5 515.3,563.7 523.3,563.7 525.0,562.7 535.0,562.7 536.7,561.7 546.7,561.7 548.3,560.5 557.5,560.5 559.2,559.5 568.3,559.5 570.0,558.5 581.7,558.5 583.3,557.5 592.5,557.5 594.2,556.5 598.3,556.5 600.0,554.5 604.2,554.5 605.8,553.5 611.7,553.5 613.3,552.7 620.0,552.2 622.5,552.0 624.2,553.5 626.7,552.5 633.3,552.5 635.0,550.0 635.8,547.8 640.0,546.7 670.0,541.2 673.3,539.5 681.7,537.5 684.2,538.5 710.0,534.2 723.3,530.5 729.2,529.3 731.7,530.3 755.0,526.3 765.8,524.5 767.5,525.3 780.0,522.5 790.0,520.5 850.0,511.7 852.5,510.5 873.3,507.5 875.8,508.2 898.3,505.0 900.0,503.3 910.0,501.7 911.7,500.3 933.3,496.2 935.8,493.0 943.6,491.6"/>
<polyline fill="none" stroke="#f0c" stroke-width="1.35" points="83.3,409.5 90.0,409.2 160.0,394.7 175.8,391.7 179.2,392.5 190.0,388.3 221.7,379.5 237.5,378.3 275.0,367.5 301.7,354.2 306.7,351.7 315.0,349.2 330.0,343.0 337.5,340.2 403.3,315.0 410.0,313.3 440.0,306.3 445.8,303.3 451.7,303.3 463.3,300.3 468.3,297.5 480.0,295.0 512.5,287.8 515.8,285.8 573.3,273.0 596.7,267.8 600.8,265.0 621.7,259.7 624.2,260.2 635.8,257.0 638.3,253.0 650.0,249.7 656.7,246.7 698.3,235.0 728.3,224.7 734.2,224.5 743.3,221.7 755.0,218.8 778.3,213.3 779.7,218.7 800.0,214.2 810.0,211.7 836.7,205.8 840.0,206.7 860.0,201.7 863.3,202.5 873.3,200.7 875.8,201.3 898.3,198.3 899.7,194.2 910.0,192.5 912.0,190.3 922.5,188.7 924.2,190.5 934.2,188.3 935.6,185.3 938.5,185.1 939.3,184.4 944.1,184.4"/>
<polyline fill="none" stroke="#d00" stroke-width="2.45" stroke-linejoin="round" points="11.0,396.0 15.8,395.0 26.7,395.0 36.7,392.5 44.2,392.5 51.7,396.7 66.7,396.7 70.8,395.5 72.5,393.3 100.0,386.7 125.0,381.7 155.0,374.2 157.5,372.5 170.0,370.3 175.8,369.5 181.7,370.0 190.0,365.8 223.3,355.0 238.3,353.7 243.3,352.5 273.3,342.5 290.0,333.3 298.3,328.3 302.5,324.7 320.0,316.7 330.0,311.2 345.0,303.3 386.7,284.2 406.7,274.7 445.0,261.2 465.0,256.2 468.3,253.0 480.0,249.7 490.0,245.8 514.2,238.3 515.8,235.3 535.0,229.2 575.0,215.3 580.0,214.7 598.3,208.0 600.8,205.3 635.0,194.2 636.7,189.2 640.0,187.5 645.0,184.7 648.3,183.8 660.0,178.3 670.0,174.5 672.5,171.3 681.7,166.7 685.0,165.8 706.7,155.0 721.7,147.5 730.0,143.7 734.2,144.0 742.5,139.5 746.7,139.7 755.0,135.3 759.2,135.0 783.3,125.8 800.0,119.7 816.7,111.7 830.0,105.8 837.5,102.2 840.8,102.7 847.5,100.3 853.3,97.0 862.5,93.3 864.2,94.7 873.3,91.3 877.5,92.0 885.0,89.2 891.7,88.8 898.8,87.0 900.0,81.3 910.0,78.3 912.0,74.2 922.5,70.0 925.0,71.7 934.7,68.7 935.7,62.0 944.8,59.1"/>
<polyline fill="none" stroke="#3c3" stroke-width="1.35" points="945.0,557.5 947.2,557.5"/>
<polyline fill="none" stroke="#00d" stroke-width="1.35" points="945.0,528.5 947.2,528.5"/>
<polyline fill="none" stroke="#f60" stroke-width="1.35" points="945.3,490.8 947.2,490.5"/>
<polyline fill="none" stroke="#f0c" stroke-width="1.35" points="944.9,183.5 947.1,183.5"/>
<polyline fill="none" stroke="#d00" stroke-width="2.2" points="945.2,57.9 948.0,57.9"/>
<rect x="221.5" y="88.5" width="169" height="71.5" fill="#fff" stroke="#000" stroke-width="1.2"/>
<line x1="223" y1="97.8" x2="242.6" y2="97.8" stroke="#d00" stroke-width="2.2"/>
<text class="s" x="245.1" y="100.4" textLength="28.8" lengthAdjust="spacingAndGlyphs">civpop</text>
<text class="s" x="276.7" y="100.4" textLength="18.5" lengthAdjust="spacingAndGlyphs">men</text>
<line x1="223" y1="111.4" x2="242.6" y2="111.4" stroke="#00d" stroke-width="1.1"/>
<text class="s" x="245.1" y="114.4" textLength="28.8" lengthAdjust="spacingAndGlyphs">civpop</text>
<text class="s" x="278.3" y="114.4" textLength="30.6" lengthAdjust="spacingAndGlyphs">&quot;black&quot;</text>
<text class="s" x="312.8" y="114.4" textLength="18.5" lengthAdjust="spacingAndGlyphs">men</text>
<line x1="223" y1="125.4" x2="242.6" y2="125.4" stroke="#3c3" stroke-width="1.1"/>
<text class="s" x="245.1" y="128.4" textLength="28.8" lengthAdjust="spacingAndGlyphs">civpop</text>
<text class="s" x="277.2" y="128.4" textLength="23.8" lengthAdjust="spacingAndGlyphs">Asian</text>
<text class="s" x="304.5" y="128.4" textLength="18.5" lengthAdjust="spacingAndGlyphs">men</text>
<line x1="223" y1="139.4" x2="242.6" y2="139.4" stroke="#f0c" stroke-width="1.1"/>
<text class="s" x="245.1" y="142.4" textLength="28.8" lengthAdjust="spacingAndGlyphs">civpop</text>
<text class="s" x="278.3" y="142.4" textLength="32.4" lengthAdjust="spacingAndGlyphs">&quot;white&quot;</text>
<text class="s" x="314.7" y="142.4" textLength="18.5" lengthAdjust="spacingAndGlyphs">men</text>
<line x1="223" y1="153.4" x2="242.6" y2="153.4" stroke="#f60" stroke-width="1.1"/>
<text class="s" x="245.1" y="156.4" textLength="28.8" lengthAdjust="spacingAndGlyphs">civpop</text>
<text class="s" x="278.6" y="156.4" textLength="86.7" lengthAdjust="spacingAndGlyphs">&quot;Hispanic&quot;/&quot;Latino&quot;</text>
<text class="s" x="369.7" y="156.4" textLength="18.3" lengthAdjust="spacingAndGlyphs">men</text>
</g></svg></body></html>
